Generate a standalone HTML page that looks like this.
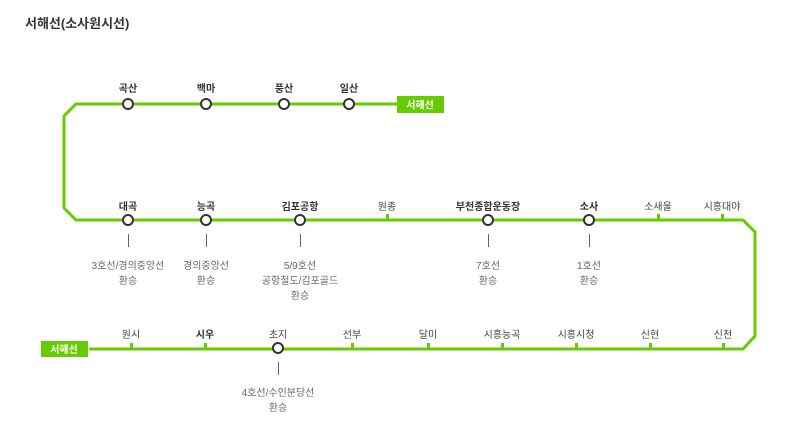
<!DOCTYPE html>
<html><head><meta charset="utf-8"><style>
html,body{margin:0;padding:0;background:#fff;}
svg{display:block;}
text{font-family:"Liberation Sans","Noto Sans CJK KR",sans-serif;font-size:10px;fill:#444;text-anchor:middle;}
.b{font-weight:bold;fill:#333;}
.t{fill:#666;}
</style></head><body>
<svg width="789" height="446" viewBox="0 0 789 446" xmlns="http://www.w3.org/2000/svg">
<text x="25" y="28" style="font-size:13px;font-weight:bold;text-anchor:start;fill:#333">서해선(소사원시선)</text>
<g fill="none" stroke="#66cc00" stroke-width="3">
<polyline points="397,104 76,104 64,116 64,208 76,220 743,220 755,232 755,336 743,349 89,349"/>
</g>
<rect x="397" y="96" width="47" height="17" fill="#66cc00"/>
<text x="420" y="108.5" style="fill:#fff;font-weight:bold">서해선</text>
<rect x="41" y="341" width="47" height="16" fill="#66cc00"/>
<text x="64" y="353" style="fill:#fff;font-weight:bold">서해선</text>
<g fill="#66cc00">
<rect x="386" y="214" width="3" height="5"/>
<rect x="657" y="214" width="3" height="5"/>
<rect x="721" y="214" width="3" height="5"/>
<rect x="130" y="343" width="3" height="5"/>
<rect x="204" y="343" width="3" height="5"/>
<rect x="351" y="343" width="3" height="5"/>
<rect x="427" y="343" width="3" height="5"/>
<rect x="501" y="343" width="3" height="5"/>
<rect x="575" y="343" width="3" height="5"/>
<rect x="649" y="343" width="3" height="5"/>
<rect x="722" y="343" width="3" height="5"/>
</g>
<g fill="#fff" stroke="#333" stroke-width="2">
<circle cx="128" cy="104" r="5"/><circle cx="206" cy="104" r="5"/><circle cx="284" cy="104" r="5"/><circle cx="349" cy="104" r="5"/>
<circle cx="128" cy="220" r="5"/><circle cx="206" cy="220" r="5"/><circle cx="300" cy="220" r="5"/><circle cx="488" cy="220" r="5"/><circle cx="589" cy="220" r="5"/>
<circle cx="278" cy="348" r="5"/>
</g>
<g stroke="#666" stroke-width="1">
<line x1="128.5" y1="234" x2="128.5" y2="247"/><line x1="206.5" y1="234" x2="206.5" y2="247"/><line x1="300.5" y1="234" x2="300.5" y2="247"/><line x1="488.5" y1="234" x2="488.5" y2="247"/><line x1="589.5" y1="234" x2="589.5" y2="247"/><line x1="278.5" y1="362" x2="278.5" y2="375"/>
</g>
<text class="b" x="128" y="92">곡산</text><text class="b" x="206" y="92">백마</text><text class="b" x="284" y="92">풍산</text><text class="b" x="349" y="92">일산</text>
<text class="b" x="128" y="210">대곡</text><text class="b" x="206" y="210">능곡</text><text class="b" x="300" y="210">김포공항</text><text x="387" y="210">원종</text><text class="b" x="488" y="210">부천종합운동장</text><text class="b" x="589" y="210">소사</text><text x="658" y="210">소새울</text><text x="722" y="210">시흥대야</text>
<text x="131" y="338">원시</text><text class="b" x="205" y="338">시우</text><text x="278" y="338">초지</text><text x="352" y="338">선부</text><text x="428" y="338">달미</text><text x="502" y="338">시흥능곡</text><text x="576" y="338">시흥시청</text><text x="650" y="338">신현</text><text x="723" y="338">신천</text>
<text class="t" x="128" y="269">3호선/경의중앙선</text><text class="t" x="128" y="284">환승</text>
<text class="t" x="206" y="269">경의중앙선</text><text class="t" x="206" y="284">환승</text>
<text class="t" x="300" y="269">5/9호선</text><text class="t" x="300" y="284">공항철도/김포골드</text><text class="t" x="300" y="299">환승</text>
<text class="t" x="488" y="269">7호선</text><text class="t" x="488" y="284">환승</text>
<text class="t" x="589" y="269">1호선</text><text class="t" x="589" y="284">환승</text>
<text class="t" x="278" y="396">4호선/수인분당선</text><text class="t" x="278" y="411">환승</text>
</svg>
</body></html>
